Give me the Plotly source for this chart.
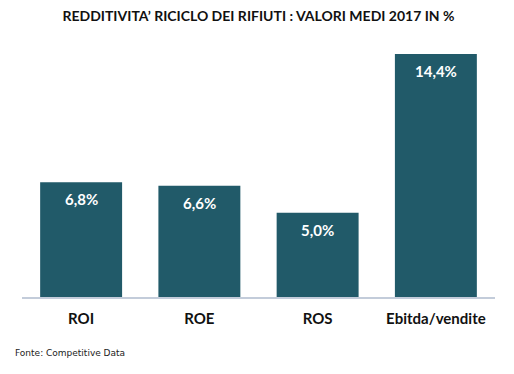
import plotly.graph_objects as go

categories = ["ROI", "ROE", "ROS", "Ebitda/vendite"]
values = [6.8, 6.6, 5.0, 14.4]
labels = ["6,8%", "6,6%", "5,0%", "14,4%"]

BAR = "#215A69"
FONT = "Lato"

fig = go.Figure()
fig.add_trace(go.Bar(
    x=categories, y=values,
    marker=dict(color=BAR, line=dict(width=0)),
    hoverinfo="skip",
))

for c, v, t in zip(categories, values, labels):
    fig.add_annotation(
        x=c, y=v, xref="x", yref="y", text=t, showarrow=False,
        yanchor="middle", yshift=-17,
        font=dict(family=FONT, size=15, color="white", weight="bold"),
    )

fig.add_annotation(
    text="Fonte: Competitive Data", xref="paper", yref="paper",
    x=0, y=0, xanchor="left", yanchor="middle", xshift=-9, yshift=-56,
    showarrow=False, font=dict(family="DejaVu Sans", size=9, color="#222222"),
)

fig.update_layout(
    width=506, height=366,
    margin=dict(l=14, r=19, t=36, b=77),
    paper_bgcolor="white", plot_bgcolor="white",
    bargap=0.307,
    showlegend=False,
    title=dict(
        text="<b>REDDITIVITA’ RICICLO DEI RIFIUTI : VALORI MEDI 2017 IN %</b>",
        x=0.5, xanchor="center", xref="paper",
        y=1 - 8 / 366, yanchor="middle", yref="container",
        font=dict(family=FONT, size=14, color="#111111"),
    ),
    xaxis=dict(
        showline=True, linecolor="#C3CCDA", linewidth=1.5,
        ticks="", showgrid=False, zeroline=False,
        tickfont=dict(family=FONT, size=15, color="#111111", weight="bold"),
        ticklabelstandoff=7,
    ),
    yaxis=dict(
        range=[0, 15], visible=False, showgrid=False, zeroline=False,
    ),
)

fig.write_html("out.html")
